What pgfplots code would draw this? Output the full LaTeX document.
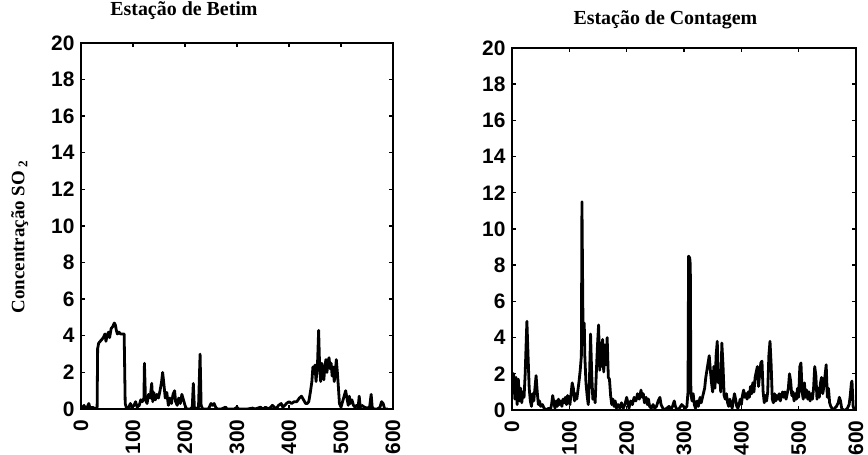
\documentclass[border=0pt]{standalone}
\usepackage{pgfplots}
\pgfplotsset{compat=1.18}
\usepackage{fontspec}
\setmainfont{Liberation Serif}
\newfontfamily\ticksf{Liberation Sans}

\pgfplotstableread{
x y
0 0
3 0.1
6 0.2
8 0
12 0.1
15 0.3
18 0
22 0.1
28 0
31 0.1
32 3.3
34 3.6
37 3.7
40 3.8
43 3.9
46 4.1
48 3.7
50 4.0
53 4.2
55 3.9
58 4.4
61 4.5
64 4.7
66 4.6
68 4.3
70 4.1
73 4.2
76 4.1
80 4.1
83 4.1
85 0.3
88 0
92 0.1
95 0.3
98 0.1
102 0.2
105 0.4
108 0.1
112 0.2
115 0.5
118 0.4
121 0.6
122 2.5
124 0.5
127 0.3
130 0.8
133 0.6
136 1.4
138 0.4
140 0.9
143 0.5
146 0.8
149 0.6
152 1.0
155 1.5
157 2.0
160 1.2
162 0.6
165 0.9
168 0.2
171 0.6
174 0.3
177 0.8
180 1.0
182 0.4
185 0.2
188 0.6
191 0.3
194 0.8
197 0.5
200 0.2
203 0
210 0
214 0.1
216 1.4
218 0.1
222 0
226 0.1
229 3.0
231 0.2
234 0
240 0
245 0
250 0.3
253 0.2
256 0.3
259 0.1
262 0
270 0
278 0.1
281 0
295 0
300 0.1
303 0
320 0
330 0.05
335 0
345 0.1
350 0
355 0.1
360 0
365 0.1
368 0.2
372 0.1
375 0
380 0.2
385 0.3
388 0.1
392 0.2
395 0.3
400 0.4
405 0.3
410 0.4
415 0.4
420 0.6
424 0.7
428 0.5
432 0.3
435 0.3
438 0.4
441 0.9
444 1.5
446 2.3
448 2.1
450 2.4
452 1.5
455 2.6
457 4.3
459 2.2
461 1.5
463 2.5
465 2.0
467 1.6
469 2.3
471 2.7
473 2.0
475 2.6
477 2.8
479 2.2
481 2.5
483 1.8
485 2.3
487 1.5
489 2.0
491 2.7
493 2.0
495 1.2
497 0.3
500 0.1
503 0.4
506 0.7
509 1.0
512 0.5
514 0.2
516 0.7
518 0.3
521 0.5
524 0.2
527 0.1
530 0.2
533 0.1
535 0.7
537 0.1
540 0.2
545 0.1
550 0.05
555 0.1
558 0.8
560 0.1
563 0
570 0
575 0.1
578 0.4
581 0.3
584 0
590 0
}\betim

\pgfplotstableread{
x y
0 2.0
3 2.0
5 0.6
7 1.8
9 0.3
11 1.7
13 0.5
15 1.2
17 0.4
19 1.0
21 0.7
23 2.0
25 4.0
26 4.9
28 3.0
30 1.2
32 0.5
34 0.2
36 0.9
38 0.5
40 1.2
42 1.9
44 1.0
46 0.3
48 0.5
50 0.2
53 0.3
56 0.1
60 0.0
64 0.1
67 0.0
69 0.3
71 0.8
73 0.4
75 0.1
77 0.5
79 0.2
81 0.6
83 0.3
85 0.5
87 0.2
89 0.6
91 0.4
93 0.7
95 0.3
97 0.8
99 0.5
101 0.3
103 0.9
105 1.5
107 1.2
109 0.5
111 0.9
113 0.6
115 1.1
117 1.6
119 2.2
121 3.0
122 11.5
124 4.0
126 4.8
127 3.0
129 1.5
131 0.8
133 0.3
135 1.5
137 4.2
139 2.0
141 0.6
143 1.0
145 0.4
147 2.0
149 3.5
151 4.7
153 2.2
155 3.7
157 2.4
158 3.9
160 2.1
162 3.6
164 2.5
166 4.0
168 1.8
170 1.7
172 0.8
174 0.3
176 0.6
178 0.2
180 0.5
182 0.1
185 0.3
188 0.1
191 0.4
194 0.1
197 0.3
200 0.7
202 0.4
204 0.1
207 0.5
210 0.3
213 0.7
216 0.5
219 0.9
222 0.6
225 1.1
227 0.7
229 0.9
231 0.4
234 0.7
236 0.3
238 0.6
240 0.2
243 0.1
246 0.3
249 0.1
252 0.2
255 0.5
258 0.7
260 0.3
263 0.1
266 0
270 0.1
274 0.2
277 0
280 0.2
283 0.5
285 0.2
288 0
292 0.1
296 0.3
299 0.2
302 0.1
305 0.2
307 1.0
308 8.5
310 8.4
311 8.0
312 0.9
314 0.5
316 0.9
318 0.3
320 0.1
323 0.5
325 0.2
328 0.7
330 0.4
333 0.8
336 1.2
338 1.8
340 2.2
342 2.6
344 3.0
346 2.2
348 1.5
350 1.0
352 2.4
354 1.2
356 3.0
358 3.8
360 1.5
362 2.2
364 1.0
366 3.7
368 2.5
370 0.8
372 0.6
374 0.9
376 0.4
378 0.2
380 0.6
382 0.3
384 0.1
386 0.5
388 0.9
390 0.6
392 0.2
394 0.1
396 0.3
398 0.6
400 0.3
402 0.8
404 1.1
406 0.7
408 0.9
410 0.6
412 1.0
414 0.7
416 1.3
418 0.9
420 1.5
422 1.0
424 1.8
426 2.1
428 2.4
430 1.3
432 2.0
434 2.6
436 2.7
438 1.0
440 0.4
442 0.8
444 0.5
446 1.0
448 3.0
450 3.8
452 2.5
454 0.6
456 0.4
458 0.9
460 0.5
462 0.8
464 0.6
466 0.9
468 0.5
470 0.8
472 1.0
474 0.7
476 1.0
478 0.6
480 0.9
482 1.2
484 2.0
486 1.6
488 0.8
490 1.0
492 0.5
494 0.9
496 0.6
498 1.2
500 0.7
502 2.4
504 2.6
506 1.0
508 0.6
510 1.5
512 0.7
514 1.1
516 0.6
518 1.0
520 0.5
522 0.9
524 0.6
526 1.2
528 2.4
530 1.9
532 0.6
534 1.2
536 0.7
538 1.5
540 1.8
542 0.9
544 1.3
546 1.9
548 2.5
550 0.7
552 1.2
554 0.4
556 0.2
558 0.1
560 0
563 0.1
566 0.2
569 0.4
571 0.7
573 0.5
575 0.1
578 0
582 0
585 0.1
588 0.3
590 0.8
592 1.5
593 1.6
595 0.2
597 0
}\contagem

\pgfplotsset{
  myaxis/.style={
    scale only axis,
    anchor=south west,
    xmin=0, xmax=600, ymin=0, ymax=20,
    xtick={0,100,...,600},
    ytick={0,2,...,20},
    tick pos=both,
    tick align=inside,
    major tick length=4bp,
    axis line style={line width=2bp},
    every tick/.style={line width=1.4bp, black},
    /pgf/number format/assume math mode=true,
    ticklabel style={font=\ticksf\bfseries\fontsize{21}{21}\selectfont},
    yticklabel style={xshift=-3bp},
    xticklabel style={rotate=90, anchor=east, xshift=-7bp},
    title style={font=\bfseries\fontsize{20}{20}\selectfont, anchor=center},
  },
}

\begin{document}
\begin{tikzpicture}
\path[use as bounding box] (0,0) rectangle (868bp,455bp);
\begin{axis}[myaxis,
  at={(81bp,46bp)}, width=312bp, height=366bp,
  title={Estação de Betim},
  title style={at={(axis description cs:0.33,1)}, yshift=26bp},
  ylabel={Concentração SO\,\textsubscript{2}},
  ylabel style={at={(axis description cs:-0.196,0.47)}, anchor=center, rotate=0,
    font=\bfseries\fontsize{19}{19}\selectfont},
]
\addplot[black, line width=2.8bp, line join=round, mark=none] table[x=x,y=y] {\betim};
\end{axis}
\begin{axis}[myaxis,
  at={(512bp,45bp)}, width=344bp, height=362bp,
  title={Estação de Contagem},
  title style={at={(axis description cs:0.446,1)}, yshift=22bp},
]
\addplot[black, line width=2.8bp, line join=round, mark=none] table[x=x,y=y] {\contagem};
\end{axis}
\end{tikzpicture}
\end{document}
